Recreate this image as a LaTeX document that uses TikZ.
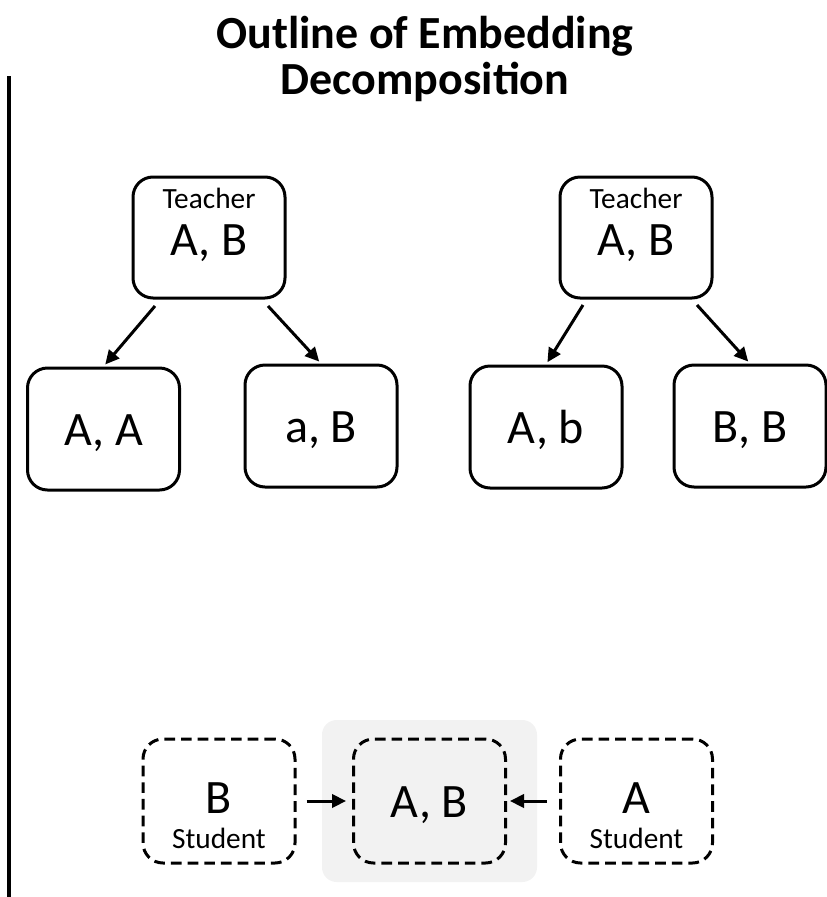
\documentclass[tikz,border=0pt]{standalone}
\usepackage{fontspec}
\setmainfont{Carlito}
\usetikzlibrary{arrows.meta}

\begin{document}
\begin{tikzpicture}[
x = 0.75pt, y = -0.75pt,
tchrect/.style={rectangle, draw = black, line width = 2.25pt, rounded corners = 15pt, 
minimum width = 114pt, minimum height = 90.75pt, inner sep = 0pt}, 
kidrect/.style={tchrect, minimum height = 91.5pt, text height = 24pt, text depth = 0pt, font = \fontsize{36}{42}\selectfont}, 
sturect/.style={kidrect, dash pattern = on 8pt off 4.5pt, minimum height = 93pt}, 
grayrect/.style={rectangle, fill = gray!10, rounded corners = 11pt, minimum width = 161.25pt, minimum height = 121.5pt}, 
bigtxt/.style={anchor = base, inner sep = 0pt, font = \fontsize{36}{42}\selectfont}, 
smltxt/.style={anchor = base, inner sep = 0pt, font = \fontsize{22}{26}\selectfont}, 
ttltxt/.style={anchor = base, inner sep = 0pt, font = \fontsize{34.5}{41}\bfseries\selectfont}, 
modarr/.style={-{Triangle[length = 10.5pt, width = 10pt]}, line width = 2.25pt, shorten >= 2pt}]

\useasboundingbox (0,0) rectangle (827,897);

\node[ttltxt] (T1) at (425,48) {Outline of Embedding};
\node[ttltxt] (T2) at (425,94) {Decomposition};
\draw[line width = 3pt] (9,76) -- (9,897);

% left tree
\node[tchrect] (TL) at (209,237.5) {};
\node[smltxt] (TLa) at (209,208) {Teacher};
\node[bigtxt] (TLb) at (209,255) {A, B};
\node[kidrect] (AA) at (103.5,429) {A, A};
\node[kidrect] (aB) at (321,426) {a, B};
\coordinate (TLl) at (155,306);
\coordinate (TLr) at (268,306);
\draw[modarr] (TLl) -- (AA.north);
\draw[modarr] (TLr) -- (aB.north);

% right tree
\node[tchrect] (TR) at (636,237.5) {};
\node[smltxt] (TRa) at (636,208) {Teacher};
\node[bigtxt] (TRb) at (636,255) {A, B};
\node[kidrect] (Ab) at (546,427) {A, b};
\node[kidrect] (BB) at (750,426) {B, B};
\coordinate (TRl) at (583,305);
\coordinate (TRr) at (697,305);
\draw[modarr] (TRl) -- (Ab.north);
\draw[modarr] (TRr) -- (BB.north);

% students
\node[grayrect] (bg) at (429.5,801) {};
\node[sturect] (SB) at (219,801) {};
\node[bigtxt] (SBa) at (219,813) {B};
\node[smltxt] (SBb) at (219,848) {Student};
\node[sturect] (AB) at (429.5,801) {A, B};
\node[sturect] (SA) at (636.5,801) {};
\node[bigtxt] (SAa) at (636.5,813) {A};
\node[smltxt] (SAb) at (636.5,848) {Student};
\draw[modarr, shorten <= 7.5pt, shorten >= 4.5pt] (SB.east) -- (AB.west);
\draw[modarr, shorten <= 9pt, shorten >= 2.25pt] (SA.west) -- (AB.east);
\end{tikzpicture}
\end{document}
